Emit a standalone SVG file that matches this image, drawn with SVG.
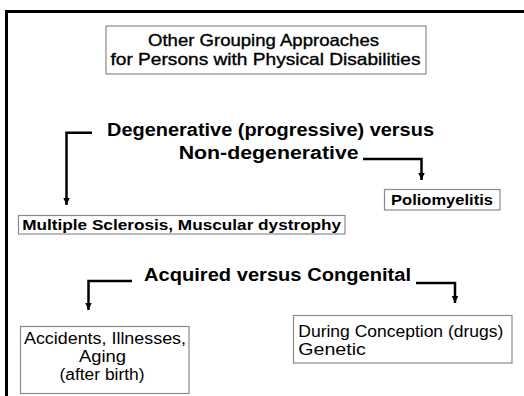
<svg xmlns="http://www.w3.org/2000/svg" width="524" height="396" viewBox="0 0 524 396">
<style>
.t{font-family:"Liberation Sans",Arial,sans-serif;fill:#000}
.b{font-weight:bold}
.h{stroke:#000;stroke-width:0.35}
.box{fill:#fff;stroke:#8a8a8a;stroke-width:1.2}
.conn{fill:none;stroke:#000;stroke-width:2.5}
</style>
<defs>
<marker id="ah" markerUnits="userSpaceOnUse" markerWidth="8" markerHeight="8" refX="7" refY="4" orient="auto">
<path d="M0,0.8 L7,4 L0,7.2 z" fill="#000"/>
</marker>
</defs>
<rect width="524" height="396" fill="#fff"/>
<path d="M6.5,396 V11.5 H524" fill="none" stroke="#000" stroke-width="3"/>
<g id="title">
<rect class="box" x="106" y="26" width="320" height="48"/>
<text class="t h" x="263.5" y="46" font-size="16.5" text-anchor="middle" textLength="231" lengthAdjust="spacingAndGlyphs">Other Grouping Approaches</text>
<text class="t h" x="265.5" y="65" font-size="16.5" text-anchor="middle" textLength="310" lengthAdjust="spacingAndGlyphs">for Persons with Physical Disabilities</text>
</g>
<g id="degenerative">
<text class="t b" x="270.5" y="136" font-size="17.5" text-anchor="middle" textLength="327" lengthAdjust="spacingAndGlyphs">Degenerative (progressive) versus</text>
<text class="t b" x="268.7" y="159" font-size="17.5" text-anchor="middle" textLength="180" lengthAdjust="spacingAndGlyphs">Non-degenerative</text>
</g>
<g id="ms">
<rect class="box" x="18.5" y="215.5" width="326.5" height="18.5"/>
<text class="t b" x="181.7" y="229.5" font-size="15" text-anchor="middle" textLength="319" lengthAdjust="spacingAndGlyphs">Multiple Sclerosis, Muscular dystrophy</text>
</g>
<g id="polio">
<rect class="box" x="384.5" y="189.5" width="115.5" height="20.5"/>
<text class="t b" x="442" y="204.5" font-size="15" text-anchor="middle" textLength="102" lengthAdjust="spacingAndGlyphs">Poliomyelitis</text>
</g>
<g id="acquired">
<text class="t b" x="277.5" y="281" font-size="17.5" text-anchor="middle" textLength="267" lengthAdjust="spacingAndGlyphs">Acquired versus Congenital</text>
</g>
<g id="accidents">
<rect class="box" x="20.5" y="326.5" width="168.5" height="67"/>
<text class="t" x="105" y="344.3" font-size="16" text-anchor="middle" textLength="162" lengthAdjust="spacingAndGlyphs">Accidents, Illnesses,</text>
<text class="t" x="102.5" y="362" font-size="16" text-anchor="middle" textLength="47" lengthAdjust="spacingAndGlyphs">Aging</text>
<text class="t" x="102" y="380" font-size="16" text-anchor="middle" textLength="85" lengthAdjust="spacingAndGlyphs">(after birth)</text>
</g>
<g id="during">
<rect class="box" x="293.5" y="315.5" width="218.5" height="47.5"/>
<text class="t" x="298.3" y="337.3" font-size="16" textLength="205" lengthAdjust="spacingAndGlyphs">During Conception (drugs)</text>
<text class="t" x="298.3" y="355" font-size="16" textLength="67.5" lengthAdjust="spacingAndGlyphs">Genetic</text>
</g>
<g id="connectors">
<path class="conn" d="M92,132.7 H66.5 V205" marker-end="url(#ah)"/>
<path class="conn" d="M363,159 H421.5 V180" marker-end="url(#ah)"/>
<path class="conn" d="M132,281 H88.5 V310" marker-end="url(#ah)"/>
<path class="conn" d="M416,283 H455 V303" marker-end="url(#ah)"/>
</g>
</svg>
